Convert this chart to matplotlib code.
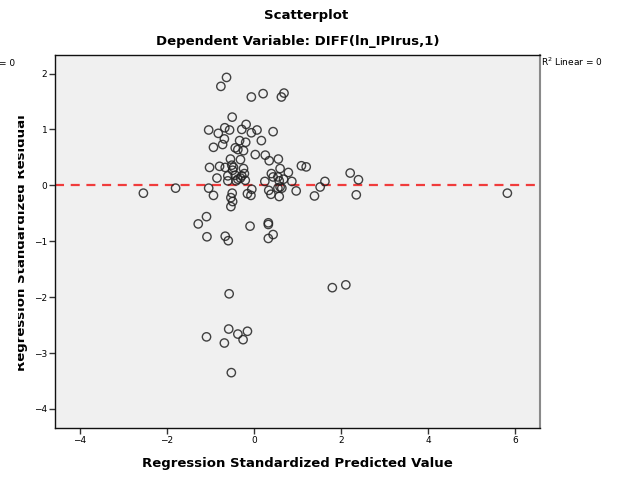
import matplotlib
matplotlib.use("Agg")
import matplotlib.pyplot as plt
from matplotlib.transforms import Bbox

# Regression standardized predicted value (x) and standardized residual (y)
pred = [-0.63, -0.76, -0.06, 0.21, 0.63, 0.69, -0.50, -1.04, -0.82, -0.67,
        -0.56, -0.28, -0.18, -0.06, 0.07, 0.44, -0.68, -0.72, -0.93, -0.33,
        -0.19, 0.17, -0.43, -0.37, -0.24, 0.03, 0.26, 0.35, 0.56, -0.54,
        -0.31, -1.02, -0.79, -0.66, -0.51, -0.47, -0.49, -0.24, 0.60, 0.79,
        1.09, 1.20, 2.21, 2.40, 2.35, -0.85, -0.60, -0.60, -0.43, -0.37,
        -0.41, -0.31, -0.28, -0.22, -0.20, 0.25, 0.40, 0.44, 0.55, 0.58,
        0.68, 0.60, 0.87, 1.63, 1.52, 1.39, 0.97, -1.80, -2.54, -1.04,
        -0.93, -0.50, -0.53, -0.49, -0.53, -0.15, -0.05, -0.07, 0.34, 0.39,
        0.55, 0.64, 0.58, -1.09, -1.28, -1.08, -0.66, -0.59, -0.09, 0.33,
        0.33, 0.44, 0.33, -0.57, -0.58, -0.37, -0.15, -0.25, -1.09, -0.68,
        -0.52, 1.80, 2.11, 5.82]
resid = [1.93, 1.77, 1.58, 1.64, 1.58, 1.65, 1.22, 0.99, 0.93, 1.03,
         0.99, 1.00, 1.09, 0.94, 0.99, 0.96, 0.83, 0.73, 0.68, 0.80,
         0.77, 0.80, 0.67, 0.64, 0.62, 0.55, 0.54, 0.44, 0.47, 0.47,
         0.46, 0.32, 0.34, 0.32, 0.36, 0.32, 0.27, 0.30, 0.30, 0.23,
         0.35, 0.33, 0.22, 0.10, -0.17, 0.13, 0.17, 0.08, 0.18, 0.11,
         0.08, 0.13, 0.17, 0.21, 0.09, 0.07, 0.21, 0.15, 0.15, 0.08,
         0.11, -0.03, 0.07, 0.07, -0.03, -0.19, -0.10, -0.05, -0.14, -0.05,
         -0.18, -0.14, -0.22, -0.29, -0.38, -0.15, -0.07, -0.18, -0.09, -0.16,
         -0.05, -0.05, -0.20, -0.56, -0.69, -0.92, -0.91, -0.99, -0.73, -0.67,
         -0.70, -0.88, -0.95, -1.94, -2.57, -2.66, -2.61, -2.76, -2.71, -2.82,
         -3.35, -1.83, -1.78, -0.14]

fit_line_y = 0.0
xticks = [-4, -2, 0, 2, 4, 6]
yticks = [-4, -3, -2, -1, 0, 1, 2]

plt.rcParams['font.family'] = ['DejaVu Sans']
plt.rcParams['axes.unicode_minus'] = True
plt.rcParams['lines.scale_dashes'] = False

W, H = 622, 480
fig = plt.figure(figsize=(W / 100, H / 100), dpi=100)
fig.patch.set_facecolor('white')

ax_l, ax_r, ax_t, ax_b = 55, 540, 54.5, 428
ax = fig.add_axes([ax_l / W, 1 - ax_b / H, (ax_r - ax_l) / W, (ax_b - ax_t) / H])
ax.set_facecolor('#f0f0f0')

ax.scatter(pred, resid, s=36, facecolors='none', edgecolors='#222222',
           linewidths=1.0, alpha=0.85, zorder=3)
ax.axhline(fit_line_y, color='#f03c3c', lw=1.6, dashes=(6.5, 4.8), zorder=2)

ax.set_xlim(-4.57, 6.57)
ax.set_ylim(-4.34, 2.34)
ax.set_xticks(xticks)
ax.set_yticks(yticks)
ax.tick_params(axis='both', direction='out', length=4, width=1,
               labelsize=6.5, color='#333333', pad=1.5)

for side in ['left', 'bottom', 'top']:
    ax.spines[side].set_color('#111111')
    ax.spines[side].set_linewidth(1.0)
ax.spines['right'].set_color('#8a8a8a')
ax.spines['right'].set_linewidth(1.5)

# titles
fig.text(306 / W, 1 - 16 / H, 'Scatterplot', ha='center', va='center',
         fontsize=9.5, fontweight='bold')
fig.text(297.5 / W, 1 - 42 / H, 'Dependent Variable: DIFF(ln_IPIrus,1)',
         ha='center', va='center', fontsize=9.5, fontweight='bold')

# axis labels
fig.text(297.5 / W, 1 - 463 / H, 'Regression Standardized Predicted Value',
         ha='center', va='center', fontsize=9.5, fontweight='bold')
ylab = fig.text(22 / W, 1 - 243 / H, 'Regression Standardized Residual',
                ha='center', va='center', rotation=90, fontsize=9.5,
                fontweight='bold')
ylab.set_clip_box(Bbox([[17.5, 0], [W, H]]))
ylab.set_clip_on(True)

# fit legend texts
fig.text(541 / W, 1 - 62 / H, r'R$^2$ Linear = 0', ha='left', va='center',
         fontsize=6.5)
fig.text(-1 / W, 1 - 64 / H, '= 0', ha='left', va='center', fontsize=6.5)

fig.savefig('out.png', dpi=100, facecolor='white')
